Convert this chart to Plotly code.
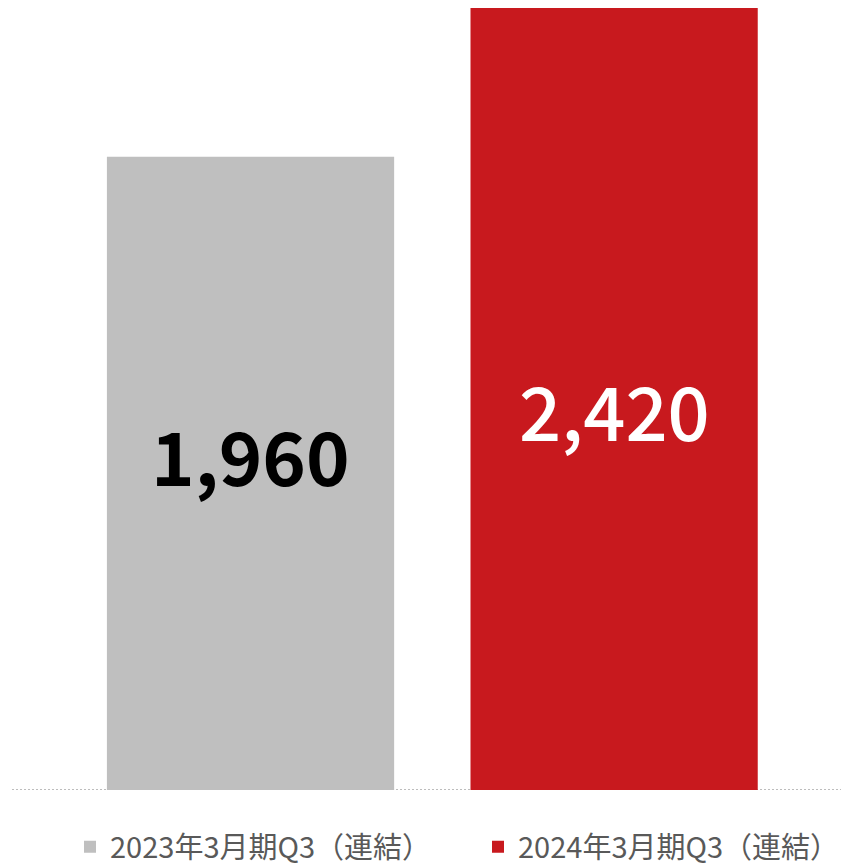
import plotly.graph_objects as go

categories = ["2023年3月期Q3（連結）", "2024年3月期Q3（連結）"]
values = [1960, 2420]
labels = ["1,960", "2,420"]
label_pos = [1040, 1182]
label_weights = ["bold", 500]
colors = ["#BFBFBF", "#C8191E"]
label_colors = ["#000000", "#FFFFFF"]

fig = go.Figure()
for i, (c, v) in enumerate(zip(categories, values)):
    fig.add_trace(go.Bar(
        x=[i], y=[v], name=c, marker=dict(color=colors[i], line=dict(width=0)),
        width=0.79, showlegend=True,
    ))
    fig.add_annotation(x=i, y=label_pos[i], text=labels[i], showarrow=False,
                       font=dict(family="Noto Sans CJK JP", size=74, color=label_colors[i],
                                 weight=label_weights[i]),
                       xanchor="center", yanchor="middle")

fig.add_shape(type="line", xref="paper", yref="y", x0=0, x1=1, y0=0, y1=0,
              line=dict(color="#BDBDBD", width=2, dash="2px,2px"), layer="below")

fig.update_layout(
    width=841, height=866,
    margin=dict(l=12, r=0, t=0, b=76),
    plot_bgcolor="white", paper_bgcolor="white",
    barmode="overlay",
    xaxis=dict(range=[-0.656, 1.624], showgrid=False, showticklabels=False, zeroline=False, showline=False, fixedrange=True),
    yaxis=dict(range=[0, 2445], showgrid=False, showticklabels=False, zeroline=False, showline=False),
    legend=dict(orientation="h", x=70 / 841, xanchor="left", xref="container",
                y=(866 - 847) / 866, yanchor="middle", yref="container",
                font=dict(family="Noto Sans CJK JP", size=29, color="#595959"),
                entrywidth=363, itemsizing="constant", tracegroupgap=0),
    font=dict(family="Noto Sans CJK JP"),
)
fig.write_html("out.html")
